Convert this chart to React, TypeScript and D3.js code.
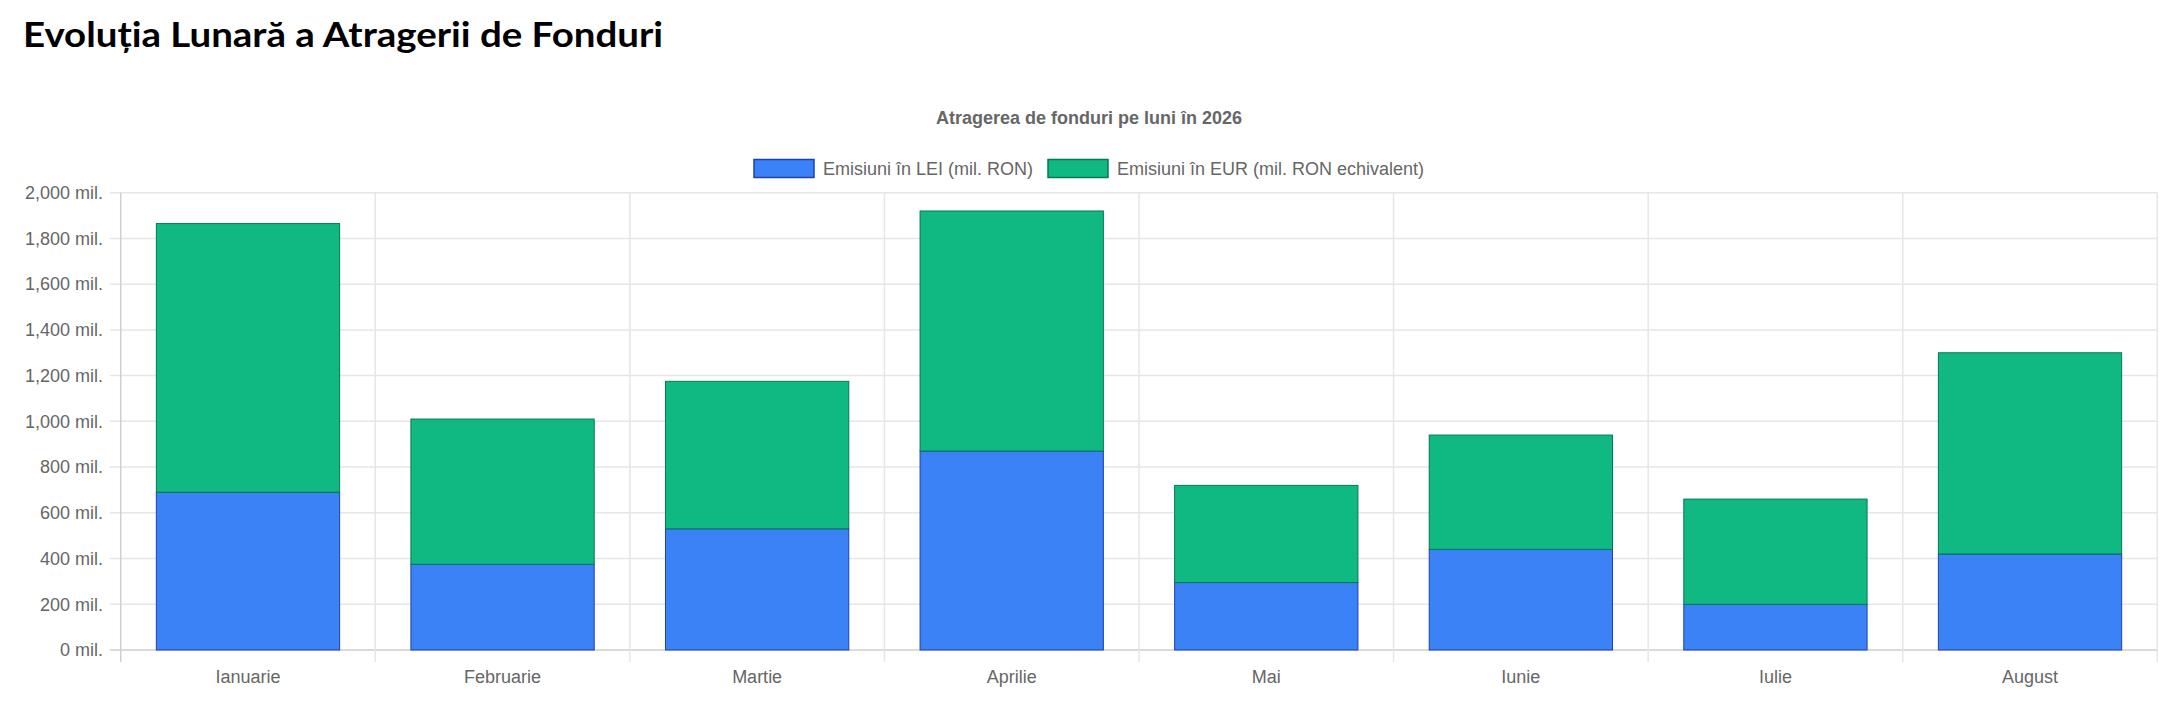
import React from 'react';
import * as d3 from 'd3';

const width = 2178;
const height = 715;
const margin = { left: 120.7, right: 20.7, top: 192.7, bottom: 65 };

const months = ['Ianuarie', 'Februarie', 'Martie', 'Aprilie', 'Mai', 'Iunie', 'Iulie', 'August'];
const leiValues = [690, 375, 530, 870, 295, 440, 200, 420];
const eurValues = [1175, 635, 645, 1050, 425, 500, 460, 880];
const yTicks = [0, 200, 400, 600, 800, 1000, 1200, 1400, 1600, 1800, 2000];

const seriesNames = ['Emisiuni în LEI (mil. RON)', 'Emisiuni în EUR (mil. RON echivalent)'];
const fills = ['#3b82f6', '#10b981'];
const strokes = ['#1e40af', '#047857'];

const rows = months.map((m, i) => ({ month: m, lei: leiValues[i], eur: eurValues[i] }));
const stacked = d3.stack<any>().keys(['lei', 'eur'])(rows);

const plotBottom = height - margin.bottom;

const x = d3.scaleBand()
  .domain(months)
  .range([margin.left, width - margin.right]);

// inner band for the bars (chart.js 0.8 * 0.9)
const xBar = d3.scaleBand()
  .domain(months)
  .range([margin.left, width - margin.right])
  .paddingInner(0.28)
  .paddingOuter(0.14);

const y = d3.scaleLinear()
  .domain([0, 2000])
  .range([plotBottom, margin.top]);

const fmt = d3.format(',');
const gridColor = '#e6e6e6';
const textColor = '#666';
const chartFont = '"Liberation Sans", Arial, sans-serif';

export default function App() {
  const step = x.step();
  const gridXs = months.map(m => x(m)).concat([width - margin.right]);

  // legend layout
  const boxW = 60, boxH = 18, fontSize = 18, gap = 15;
  const legendWidths = [210, 307];
  const totalLegend = legendWidths.reduce((s, w) => s + boxW + fontSize / 2 + w, 0) + gap;
  let lx = width / 2 - totalLegend / 2;
  const legendItems = seriesNames.map((name, i) => {
    const item = { x: lx, name, i, w: legendWidths[i] };
    lx += boxW + fontSize / 2 + legendWidths[i] + gap;
    return item;
  });

  return (
    <svg width={width} height={height} style={{ position: 'absolute', left: 0, top: 0, background: '#fff' }}>
      <text x={23} y={47} fontFamily='Lato, "Open Sans", sans-serif' fontWeight={700} fontSize={35} fill="#000"
        textLength={640} lengthAdjust="spacingAndGlyphs">
        Evoluția Lunară a Atragerii de Fonduri
      </text>

      <text x={width / 2} y={123.5} textAnchor="middle" fontFamily={chartFont} fontWeight={700} fontSize={18} fill={textColor}>
        Atragerea de fonduri pe luni în 2026
      </text>

      {legendItems.map(it => (
        <g key={it.name}>
          <rect x={it.x} y={159.5} width={boxW} height={boxH} fill={fills[it.i]} stroke={strokes[it.i]} strokeWidth={1.5} />
          <text x={it.x + boxW + fontSize / 2} y={174.5} fontFamily={chartFont} fontSize={fontSize} fill={textColor}
            textLength={it.w} lengthAdjust="spacingAndGlyphs">
            {it.name}
          </text>
        </g>
      ))}

      {/* horizontal grid + y ticks */}
      {yTicks.map(t => (
        <g key={t}>
          <line x1={margin.left - 11} x2={width - margin.right} y1={y(t)} y2={y(t)}
            stroke={t === 0 ? '#cfcfcf' : gridColor} strokeWidth={1.5} />
          <text x={103} y={y(t)} dy="0.35em" textAnchor="end" fontFamily={chartFont} fontSize={18} fill={textColor}>
            {fmt(t)} mil.
          </text>
        </g>
      ))}

      {/* vertical grid + x ticks */}
      {gridXs.map((gx, i) => (
        <line key={i} x1={gx} x2={gx} y1={margin.top} y2={plotBottom + 12}
          stroke={i === 0 ? '#cfcfcf' : gridColor} strokeWidth={1.5} />
      ))}

      {stacked.map((s, si) => (
        <g key={s.key}>
          {s.map((d, i) => (
            <rect key={i}
              x={xBar(months[i])}
              y={y(d[1])}
              width={xBar.bandwidth()}
              height={y(d[0]) - y(d[1])}
              fill={fills[si]}
              stroke={strokes[si]}
              strokeWidth={1}
            />
          ))}
        </g>
      ))}

      {months.map(m => (
        <text key={m} x={x(m) + step / 2} y={683} textAnchor="middle" fontFamily={chartFont} fontSize={18} fill={textColor}>
          {m}
        </text>
      ))}
    </svg>
  );
}
